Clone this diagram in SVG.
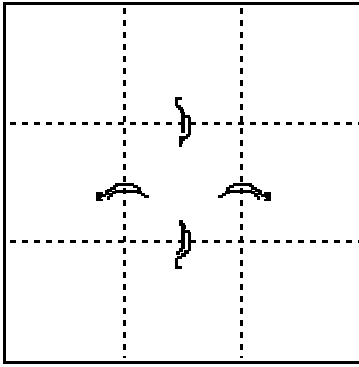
<svg xmlns="http://www.w3.org/2000/svg" width="359" height="367" viewBox="0 0 359 367">
<style>
.b{fill:none;stroke:#000;stroke-width:3}
.d{fill:none;stroke:#000;stroke-width:3;stroke-dasharray:6 6}
.a{fill:#000;stroke:#000;stroke-width:1}
svg *{shape-rendering:crispEdges}
</style>
<defs>
<path id="side" class="a" d="M96 192h6v3h-6zM96 195h5v2h-5zM96 197h4v2h-4zM96 199h6v1h-6zM102 194h3v2h-3zM105 190h3v4h-3zM107 189h4v2h-4zM110 187h5v2h-5zM113 185h4v1h-4zM115 183h18v2h-18zM133 185h4v2h-4zM137 187h3v3h-3zM107 196h2v3h-2zM109 193h3v3h-3zM112 191h3v2h-3zM115 190h22v2h-22zM137 191h4v2h-4zM141 193h3v2h-3zM144 195h4v2h-4z"/>
</defs>
<rect width="359" height="367" fill="#fff"/>
<g id="frame"><path class="b" d="M359 3.500H4.500V362.500H359"/></g>
<g id="connectors">
<path class="d" d="M10 123.500H359"/>
<path class="d" d="M10 241.500H359"/>
<path class="d" d="M124.500 8V358"/>
<path class="d" d="M241.500 8V358"/>
</g>
<g id="arrow-top">
<path class="a" d="M175 97h6v2h-6zM175 99h2v6h-2zM176 105h4v2h-4zM178 107h4v2h-4zM180 109h3v3h-3zM181 112h3v20h-3zM184 115h5v2h-5zM188 117h2v17h-2zM186 134h3v2h-3zM184 136h3v2h-3zM179 136h5v4h-5zM179 140h3v3h-3zM179 143h2v3h-2z"/>
</g>
<g id="arrow-bottom">
<path class="a" d="M179 220h3v3h-3zM179 223h5v2h-5zM181 225h4v3h-4zM181 228h3v20h-3zM184 230h5v2h-5zM188 232h2v18h-2zM184 250h4v3h-4zM181 253h4v3h-4zM177 256h4v2h-4zM175 258h2v8h-2zM175 266h6v2h-6zM179 248h3v3h-3zM176 251h3v3h-3z"/>
</g>
<g id="arrow-left"><use href="#side"/></g>
<g id="arrow-right"><use href="#side" transform="translate(366 0) scale(-1 1)"/></g>
</svg>
